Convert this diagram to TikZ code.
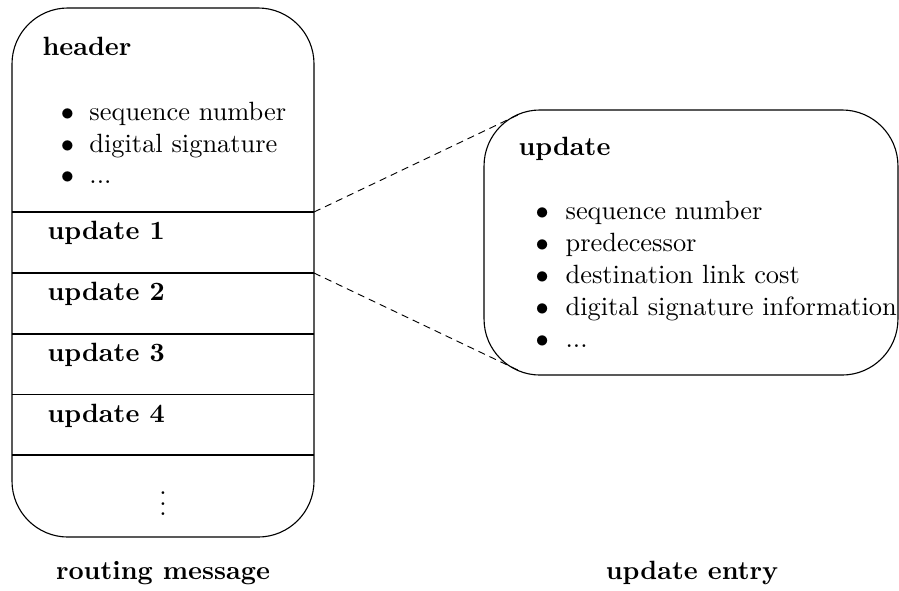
\documentclass[tikz,border=0pt]{standalone}
\begin{document}
\begin{tikzpicture}[x=0.3788pt,y=-0.3788pt,
  frame/.style={draw,line width=0.42pt,rectangle,rounded corners=21.2pt,inner sep=0pt},
  divider/.style={line width=0.42pt},
  label/.style={anchor=base west,inner sep=0pt},
  item/.style={anchor=base west,inner sep=0pt},
  zoomline/.style={line width=0.35pt,dash pattern=on 2.7pt off 1.9pt}]
\useasboundingbox (0,0) rectangle (899,590);

% routing message
\node[frame,minimum width=114.4pt,minimum height=200.4pt] (msg) at (163,272.5) {};
\draw[line width=0.65pt] (12,212) -- (314,212);
\draw[divider] (12,273) -- (314,273);
\draw[divider] (12,334) -- (314,334);
\draw[divider] (12,394.5) -- (314,394.5);
\draw[divider] (12,455) -- (314,455);

\node[label] (hdr) at (42,55) {\textbf{header}};
\node[item] (hb1) at (60.4,120) {\makebox[10.8pt][l]{$\bullet$}sequence number};
\node[item] (hb2) at (60.4,152) {\makebox[10.8pt][l]{$\bullet$}digital signature};
\node[item] (hb3) at (60.4,183.5) {\makebox[10.8pt][l]{$\bullet$}...};

\node[label] (u1) at (47,239) {\textbf{update 1}};
\node[label] (u2) at (47,300) {\textbf{update 2}};
\node[label] (u3) at (47,361) {\textbf{update 3}};
\node[label] (u4) at (47,422) {\textbf{update 4}};
\node[inner sep=0pt] (more) at (163,496) {$\vdots$};

% update entry
\node[frame,minimum width=156.8pt,minimum height=100.4pt] (entry) at (691,242.5) {};
\node[label] (uhd) at (518,155) {\textbf{update}};
\node[item] (eb1) at (535,219) {\makebox[11.4pt][l]{$\bullet$}sequence number};
\node[item] (eb2) at (535,251) {\makebox[11.4pt][l]{$\bullet$}predecessor};
\node[item] (eb3) at (535,283) {\makebox[11.4pt][l]{$\bullet$}destination link cost};
\node[item] (eb4) at (535,315) {\makebox[11.4pt][l]{$\bullet$}digital signature information};
\node[item] (eb5) at (535,347) {\makebox[11.4pt][l]{$\bullet$}...};

% zoom lines from update 1 to the entry
\coordinate (u1top) at (314,212);
\coordinate (u1bot) at (314,273);
\coordinate (entrytop) at (522,113);
\coordinate (entrybot) at (522,372);
\draw[zoomline] (u1top) -- (entrytop);
\draw[zoomline] (u1bot) -- (entrybot);

% captions
\node[anchor=base,inner sep=0pt] (cap1) at (163,579) {\textbf{routing message}};
\node[anchor=base,inner sep=0pt] (cap2) at (692,579) {\textbf{update entry}};
\end{tikzpicture}
\end{document}
